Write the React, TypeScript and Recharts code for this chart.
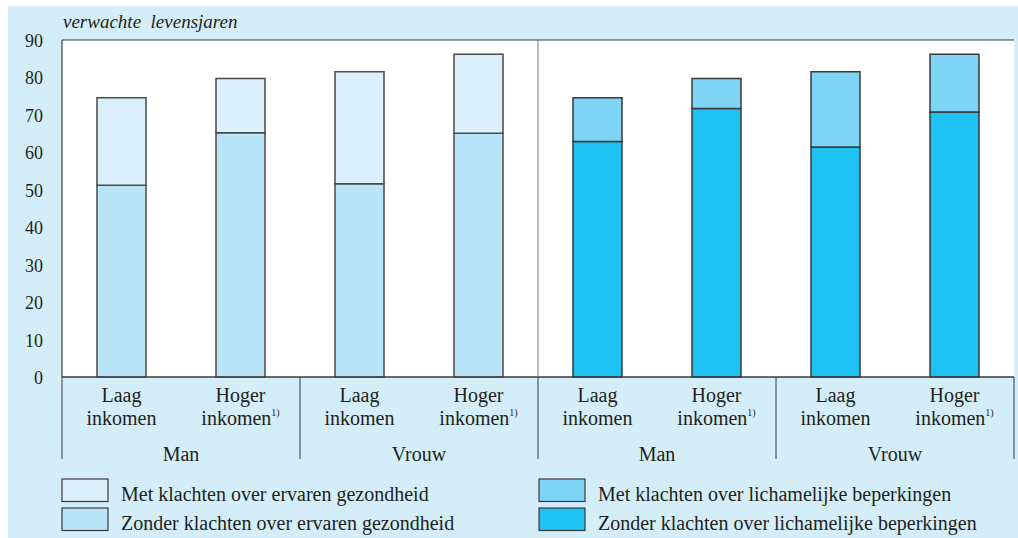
import React from "react";
import { BarChart, Bar, XAxis, YAxis, CartesianGrid } from "recharts";

const categories = ["Laag inkomen", "Hoger inkomen", "Laag inkomen", "Hoger inkomen", "Laag inkomen", "Hoger inkomen", "Laag inkomen", "Hoger inkomen"];
const groups = ["Man", "Man", "Vrouw", "Vrouw", "Man", "Man", "Vrouw", "Vrouw"];
const footnote = [false, true, false, true, false, true, false, true];

const zonderErvaren = [51.2, 65.2, 51.6, 65.1, null, null, null, null];
const metErvaren = [23.4, 14.5, 29.9, 21.1, null, null, null, null];
const zonderLichamelijk = [null, null, null, null, 62.9, 71.7, 61.4, 70.8];
const metLichamelijk = [null, null, null, null, 11.7, 8.0, 20.1, 15.4];

const yTicks = [0, 10, 20, 30, 40, 50, 60, 70, 80, 90];
const yTitle = "verwachte  levensjaren";

const seriesNames = {
  metErvaren: "Met klachten over ervaren gezondheid",
  zonderErvaren: "Zonder klachten over ervaren gezondheid",
  metLichamelijk: "Met klachten over lichamelijke beperkingen",
  zonderLichamelijk: "Zonder klachten over lichamelijke beperkingen",
};
const colors = {
  metErvaren: "#dbf0fb",
  zonderErvaren: "#b9e4f8",
  metLichamelijk: "#7fd3f5",
  zonderLichamelijk: "#1fc3f3",
};

const data = categories.map((c, i) => ({
  name: `${c}|${i}`,
  zonderErvaren: zonderErvaren[i],
  metErvaren: metErvaren[i],
  zonderLichamelijk: zonderLichamelijk[i],
  metLichamelijk: metLichamelijk[i],
}));

const W = 1018;
const H = 538;
const M = { top: 40, right: 4, left: 0, bottom: 0 };
const Y_W = 62;
const X_H = 161;
const FONT = "'Liberation Serif', 'Times New Roman', serif";
const TXT = "#231f20";
const LINE = "#3a3a3a";

const plotW = W - M.left - M.right - Y_W;
const plotH = H - M.top - M.bottom - X_H;
const band = plotW / categories.length;

const XTick = (props: any) => {
  const { x, y, payload } = props;
  const i = payload.index;
  const words = categories[i].split(" ");
  return (
    <g>
      <text x={x} y={y + 25} textAnchor="middle" fontFamily={FONT} fontSize={20} fill={TXT}>
        {words[0]}
      </text>
      <text x={x} y={y + 47.5} textAnchor="middle" fontFamily={FONT} fontSize={20} fill={TXT}>
        {words[1]}
        {footnote[i] ? (
          <tspan fontSize={10} dy={-9}>1)</tspan>
        ) : null}
      </text>
      {i % 2 === 0 ? (
        <line x1={x - band / 2} x2={x - band / 2} y1={y} y2={y + 82} stroke={LINE} strokeWidth={1} />
      ) : (
        <text x={x - band / 2} y={y + 84} textAnchor="middle" fontFamily={FONT} fontSize={20} fill={TXT}>
          {groups[i]}
        </text>
      )}
      {i === categories.length - 1 ? (
        <line x1={x + band / 2} x2={x + band / 2} y1={y} y2={y + 82} stroke={LINE} strokeWidth={1} />
      ) : null}
      {i === categories.length / 2 ? (
        <line x1={x - band / 2} x2={x - band / 2} y1={y - plotH} y2={y} stroke="#777" strokeWidth={1} />
      ) : null}
    </g>
  );
};

const YTick = (props: any) => {
  const { x, y, payload } = props;
  return (
    <text x={x} y={y + 7} textAnchor="end" fontFamily={FONT} fontSize={18} fill={TXT}>
      {payload.value}
    </text>
  );
};

const legendLeft = ["metErvaren", "zonderErvaren"];
const legendRight = ["metLichamelijk", "zonderLichamelijk"];

const LegendBlock = ({ keys, x }: { keys: string[]; x: number }) => (
  <g>
    {keys.map((k, j) => (
      <g key={k}>
        <rect x={x} y={479 + j * 29} width={46} height={22.5} fill={(colors as any)[k]} stroke={LINE} strokeWidth={1.2} />
        <text x={x + 59} y={501 + j * 29} fontFamily={FONT} fontSize={20} fill={TXT}>
          {(seriesNames as any)[k]}
        </text>
      </g>
    ))}
  </g>
);

export default function App() {
  return (
    <div style={{ position: "absolute", left: 0, top: 0, width: W, height: H, background: "#ffffff", overflow: "hidden" }}>
      <div style={{ position: "absolute", left: 8, top: 6, width: W - 8, height: H - 6, background: "#d3eef9" }} />
      <div style={{ position: "absolute", left: 0, top: 0 }}>
        <BarChart width={W} height={H} data={data} margin={M} barSize={49}>
          <CartesianGrid vertical={false} stroke={LINE} strokeWidth={1.2} fill="#ffffff" fillOpacity={1} />
          <XAxis
            dataKey="name"
            interval={0}
            height={X_H}
            tickLine={false}
            tickSize={0}
            tickMargin={0}
            axisLine={{ stroke: LINE, strokeWidth: 1.2 }}
            tick={<XTick />}
          />
          <YAxis
            yAxisId="l"
            width={Y_W}
            domain={[0, 90]}
            ticks={yTicks}
            tickLine={false}
            tickSize={0}
            tickMargin={19}
            axisLine={{ stroke: LINE, strokeWidth: 1.2 }}
            tick={<YTick />}
          />
          <YAxis
            yAxisId="r"
            orientation="right"
            width={0}
            domain={[0, 90]}
            ticks={yTicks}
            tick={false}
            tickLine={false}
            axisLine={{ stroke: LINE, strokeWidth: 1.2 }}
          />
          <Bar yAxisId="l" dataKey="zonderErvaren" name={seriesNames.zonderErvaren} stackId="s" fill={colors.zonderErvaren} stroke="#4a4a4a" strokeWidth={1.5} isAnimationActive={false} />
          <Bar yAxisId="l" dataKey="metErvaren" name={seriesNames.metErvaren} stackId="s" fill={colors.metErvaren} stroke="#4a4a4a" strokeWidth={1.5} isAnimationActive={false} />
          <Bar yAxisId="l" dataKey="zonderLichamelijk" name={seriesNames.zonderLichamelijk} stackId="s" fill={colors.zonderLichamelijk} stroke="#3a3a3a" strokeWidth={1.5} isAnimationActive={false} />
          <Bar yAxisId="l" dataKey="metLichamelijk" name={seriesNames.metLichamelijk} stackId="s" fill={colors.metLichamelijk} stroke="#3a3a3a" strokeWidth={1.5} isAnimationActive={false} />
        </BarChart>
      </div>
      <svg width={W} height={H} style={{ position: "absolute", left: 0, top: 0, pointerEvents: "none" }}>
        <text x={63} y={28} fontFamily={FONT} fontStyle="italic" fontSize={19} fill={TXT} style={{ whiteSpace: "pre" }}>
          {yTitle}
        </text>
        <LegendBlock keys={legendLeft} x={62} />
        <LegendBlock keys={legendRight} x={539} />
      </svg>
    </div>
  );
}
